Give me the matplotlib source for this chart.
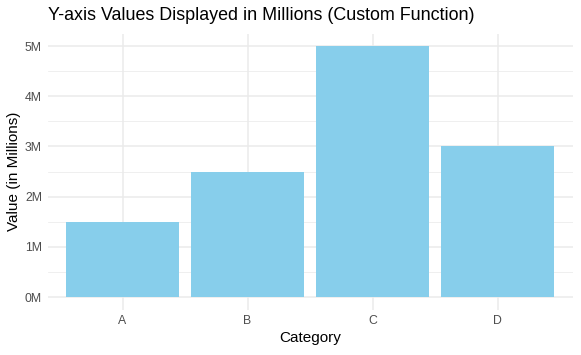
import matplotlib
matplotlib.use("Agg")
import matplotlib.pyplot as plt
from matplotlib.ticker import FuncFormatter, MultipleLocator

plt.rcParams['font.family'] = ['Liberation Sans', 'DejaVu Sans']

categories = ["A", "B", "C", "D"]
values = [1500000, 2500000, 5000000, 3000000]

fig = plt.figure(figsize=(5.81, 3.55), dpi=100)
ax = fig.add_axes([0.0818, 0.128, 0.9036, 0.7776])

xpos = range(len(categories))
ax.bar(xpos, values, width=0.9, color="#87CEEB", zorder=2)

ax.set_xlim(-0.6, 3.6)
ax.set_ylim(-250000, 5250000)
ax.yaxis.set_major_locator(MultipleLocator(1000000))
ax.yaxis.set_minor_locator(MultipleLocator(500000))
ax.yaxis.set_major_formatter(FuncFormatter(lambda v, p: f"{v/1e6:.0f}M"))
ax.set_xticks(list(xpos))
ax.set_xticklabels(categories)

ax.grid(which="major", color="#EBEBEB", linewidth=1.1, zorder=0)
ax.grid(which="minor", axis="y", color="#EBEBEB", linewidth=0.55, zorder=0)
ax.set_axisbelow(True)
for s in ax.spines.values():
    s.set_visible(False)
ax.tick_params(which="both", length=0, labelsize=8.8, labelcolor="#4D4D4D", pad=4)

ax.set_xlabel("Category", fontsize=11, labelpad=3)
ax.set_ylabel("Value (in Millions)", fontsize=11, labelpad=2.5)
# title sits flush with the panel's left edge, like ggplot
fig.text(48/581, 1 - 16/355, "Y-axis Values Displayed in Millions (Custom Function)",
         fontsize=12.9, ha="left", va="center")

fig.savefig("out.png", dpi=100)
